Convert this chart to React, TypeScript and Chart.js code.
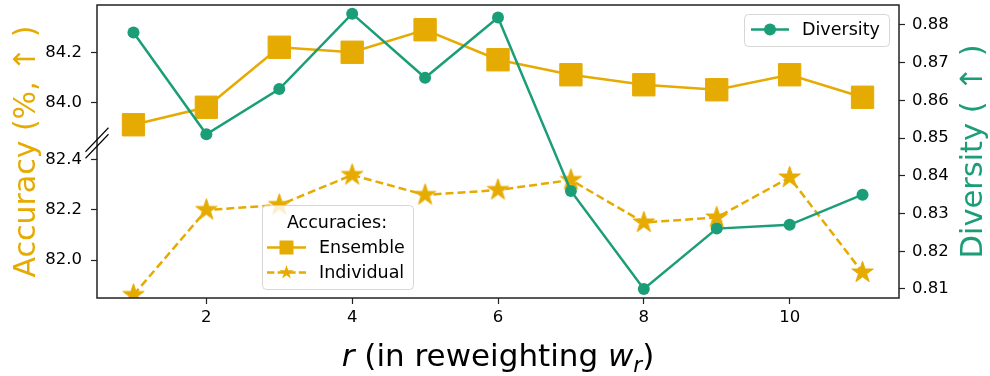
import React, { useEffect, useRef } from 'react';
import { Chart, registerables } from 'chart.js';

Chart.register(...registerables);

const rValues = [1, 2, 3, 4, 5, 6, 7, 8, 9, 10, 11];
const ensembleAcc = [83.91, 83.98, 84.22, 84.2, 84.29, 84.17, 84.11, 84.07, 84.05, 84.11, 84.02];
const individualAcc = [81.86, 82.2, 82.22, 82.34, 82.26, 82.28, 82.32, 82.15, 82.17, 82.33, 81.95];
const diversity = [0.878, 0.851, 0.863, 0.883, 0.866, 0.882, 0.836, 0.81, 0.826, 0.827, 0.835];
const xTicks = [2, 4, 6, 8, 10];
const accTopTicks = [84.0, 84.2];
const accBottomTicks = [82.0, 82.2, 82.4];
const diversityTicks = [0.81, 0.82, 0.83, 0.84, 0.85, 0.86, 0.87, 0.88];

const GOLD = '#E6AB02';
const GREEN = '#1B9E77';
const FONT = 'DejaVu Sans';
const SPINE = '#222222';

function starPath(ctx: CanvasRenderingContext2D, cx: number, cy: number, R: number) {
  ctx.beginPath();
  for (let i = 0; i < 10; i++) {
    const a = -Math.PI / 2 + (i * Math.PI) / 5;
    const r = i % 2 === 0 ? R : R * 0.381966;
    const px = cx + r * Math.cos(a);
    const py = cy + r * Math.sin(a);
    if (i === 0) ctx.moveTo(px, py);
    else ctx.lineTo(px, py);
  }
  ctx.closePath();
}

function starCanvas(R: number, color: string) {
  const size = Math.ceil(2 * R + 4);
  const c = document.createElement('canvas');
  c.width = size;
  c.height = size;
  const ctx = c.getContext('2d')!;
  starPath(ctx, size / 2, size / 2, R);
  ctx.fillStyle = color;
  ctx.fill();
  ctx.strokeStyle = color;
  ctx.lineWidth = 1;
  ctx.stroke();
  return c;
}

function legendBox(ctx: CanvasRenderingContext2D, x: number, y: number, w: number, h: number) {
  ctx.save();
  ctx.beginPath();
  ctx.roundRect(x, y, w, h, 4);
  ctx.fillStyle = 'rgba(255,255,255,0.8)';
  ctx.fill();
  ctx.strokeStyle = 'rgba(204,204,204,0.8)';
  ctx.lineWidth = 1;
  ctx.stroke();
  ctx.restore();
}

const decorPlugin = {
  id: 'decor',
  afterDraw(chart: any) {
    const ctx: CanvasRenderingContext2D = chart.ctx;
    const { left, right, top, bottom } = chart.chartArea;
    ctx.save();
    // frame
    ctx.strokeStyle = SPINE;
    ctx.lineWidth = 1.5;
    ctx.strokeRect(left, top, right - left, bottom - top);
    // break marks
    const by = chart.scales.yTop.bottom;
    ctx.strokeStyle = '#000';
    ctx.lineWidth = 1.1;
    for (const off of [-3.25, 3.25]) {
      ctx.beginPath();
      ctx.moveTo(left - 11.5, by + off + 12);
      ctx.lineTo(left + 11.5, by + off - 12);
      ctx.stroke();
    }
    // Diversity legend
    legendBox(ctx, 744.5, 14.5, 145, 32);
    ctx.strokeStyle = GREEN;
    ctx.lineWidth = 2.5;
    ctx.beginPath();
    ctx.moveTo(751, 29.5);
    ctx.lineTo(789, 29.5);
    ctx.stroke();
    ctx.fillStyle = GREEN;
    ctx.beginPath();
    ctx.arc(770, 29.5, 6, 0, Math.PI * 2);
    ctx.fill();
    ctx.fillStyle = '#000';
    ctx.font = `17.5px "${FONT}"`;
    ctx.textAlign = 'left';
    ctx.textBaseline = 'middle';
    ctx.fillText('Diversity', 802, 30);

    // Accuracies legend
    legendBox(ctx, 262.5, 205.5, 151, 84);
    ctx.fillStyle = '#000';
    ctx.textAlign = 'center';
    ctx.fillText('Accuracies:', 337, 223);
    ctx.textAlign = 'left';
    ctx.fillText('Ensemble', 319, 248);
    ctx.fillText('Individual', 319, 273);
    ctx.strokeStyle = GOLD;
    ctx.fillStyle = GOLD;
    ctx.lineWidth = 2.5;
    ctx.beginPath();
    ctx.moveTo(267, 247.5);
    ctx.lineTo(306, 247.5);
    ctx.stroke();
    ctx.fillRect(279.5, 240.5, 14, 14);
    ctx.setLineDash([7.4, 3.2]);
    ctx.beginPath();
    ctx.moveTo(267, 272.5);
    ctx.lineTo(306, 272.5);
    ctx.stroke();
    ctx.setLineDash([]);
    starPath(ctx, 286.5, 272.5, 7.5);
    ctx.fill();

    // axis labels
    const cy = (top + bottom) / 2;
    ctx.textAlign = 'center';
    ctx.textBaseline = 'alphabetic';
    ctx.save();
    ctx.font = `30px "${FONT}"`;
    ctx.translate(35, cy);
    ctx.rotate(-Math.PI / 2);
    ctx.fillStyle = GOLD;
    ctx.fillText('Accuracy (%, \u2191 )', 0, 0);
    ctx.restore();
    ctx.save();
    ctx.font = `30.5px "${FONT}"`;
    ctx.translate(981.5, cy);
    ctx.rotate(-Math.PI / 2);
    ctx.fillStyle = GREEN;
    ctx.fillText('Diversity ( \u2191 )', 0, 0);
    ctx.restore();

    // x label with math pieces
    const pieces = [
      { t: 'r', f: `italic 31px "${FONT}"`, dy: 0 },
      { t: ' (in reweighting ', f: `31px "${FONT}"`, dy: 0 },
      { t: 'w', f: `italic 31px "${FONT}"`, dy: 0 },
      { t: 'r', f: `italic 21.5px "${FONT}"`, dy: 6 },
      { t: ')', f: `31px "${FONT}"`, dy: 0 },
    ];
    let total = 0;
    for (const p of pieces) {
      ctx.font = p.f;
      total += ctx.measureText(p.t).width;
    }
    let x = (left + right) / 2 - total / 2;
    ctx.fillStyle = '#000';
    ctx.textAlign = 'left';
    for (const p of pieces) {
      ctx.font = p.f;
      ctx.fillText(p.t, x, 366 + p.dy);
      x += ctx.measureText(p.t).width;
    }
    ctx.restore();
  },
};

export default function App() {
  const ref = useRef<HTMLCanvasElement>(null);
  useEffect(() => {
    document.body.style.margin = '0';
    const canvas = ref.current!;
    const star = starCanvas(11.3, GOLD);
    const tickFont = { family: FONT, size: 16.5 };
    const grid = {
      drawOnChartArea: false,
      drawTicks: true,
      tickLength: 6,
      tickColor: SPINE,
      tickWidth: 1.2,
    };
    const fitY = (w: number) => (s: any) => {
      s.width = w;
      s.paddingTop = 0;
      s.paddingBottom = 0;
    };
    const chart = new Chart(canvas, {
      type: 'line',
      data: {
        datasets: [
          {
            label: 'Diversity',
            data: rValues.map((x, i) => ({ x, y: diversity[i] })),
            xAxisID: 'x',
            yAxisID: 'yR',
            borderColor: GREEN,
            backgroundColor: GREEN,
            borderWidth: 2.5,
            pointStyle: 'circle',
            pointRadius: 6,
            pointBorderWidth: 0,
            order: 0,
          },
          {
            label: 'Ensemble',
            data: rValues.map((x, i) => ({ x, y: ensembleAcc[i] })),
            xAxisID: 'x',
            yAxisID: 'yTop',
            borderColor: GOLD,
            backgroundColor: GOLD,
            borderWidth: 2.5,
            pointStyle: 'rect',
            pointRadius: 15.8,
            pointBorderWidth: 1,
            pointBorderColor: GOLD,
            order: 1,
          },
          {
            label: 'Individual',
            data: rValues.map((x, i) => ({ x, y: individualAcc[i] })),
            xAxisID: 'x',
            yAxisID: 'yBot',
            borderColor: GOLD,
            backgroundColor: GOLD,
            borderWidth: 2.5,
            borderDash: [8, 4],
            pointStyle: star as any,
            pointRadius: 11,
            order: 2,
          },
        ],
      },
      options: {
        animation: false,
        responsive: false,
        layout: { autoPadding: false, padding: { top: 5, left: 0, right: 0, bottom: 0 } },
        plugins: { legend: { display: false }, tooltip: { enabled: false } },
        scales: {
          x: {
            type: 'linear',
            position: 'bottom',
            min: 0.5,
            max: 11.5,
            afterBuildTicks: (s: any) => {
              s.ticks = xTicks.map((v) => ({ value: v }));
            },
            afterFit: (s: any) => {
              s.height = 78;
              s.paddingLeft = 0;
              s.paddingRight = 0;
            },
            grid,
            border: { display: false },
            ticks: {
              font: tickFont,
              color: '#000',
              padding: 4,
              maxRotation: 0,
              autoSkip: false,
              callback: (v: any) => String(v),
            },
          },
          yBot: {
            type: 'linear',
            position: 'left',
            stack: 'left',
            stackWeight: 155,
            min: 81.848,
            max: 82.468,
            afterBuildTicks: (s: any) => {
              s.ticks = accBottomTicks.map((v) => ({ value: v }));
            },
            afterFit: fitY(97),
            grid,
            border: { display: false },
            ticks: {
              font: tickFont,
              color: '#000',
              padding: 9,
              autoSkip: false,
              callback: (v: any) => Number(v).toFixed(1),
            },
          },
          yTop: {
            type: 'linear',
            position: 'left',
            stack: 'left',
            stackWeight: 138,
            min: 83.837,
            max: 84.389,
            afterBuildTicks: (s: any) => {
              s.ticks = accTopTicks.map((v) => ({ value: v }));
            },
            afterFit: fitY(97),
            grid,
            border: { display: false },
            ticks: {
              font: tickFont,
              color: '#000',
              padding: 9,
              autoSkip: false,
              callback: (v: any) => Number(v).toFixed(1),
            },
          },
          yR: {
            type: 'linear',
            position: 'right',
            min: 0.8076,
            max: 0.8853,
            afterBuildTicks: (s: any) => {
              s.ticks = diversityTicks.map((v) => ({ value: v }));
            },
            afterFit: fitY(91),
            grid,
            border: { display: false },
            ticks: {
              font: tickFont,
              color: '#000',
              padding: 7,
              autoSkip: false,
              callback: (v: any) => Number(v).toFixed(2),
            },
          },
        },
      } as any,
      plugins: [decorPlugin],
    });
    return () => chart.destroy();
  }, []);
  return <canvas ref={ref} width={990} height={376} style={{ display: 'block' }} />;
}
